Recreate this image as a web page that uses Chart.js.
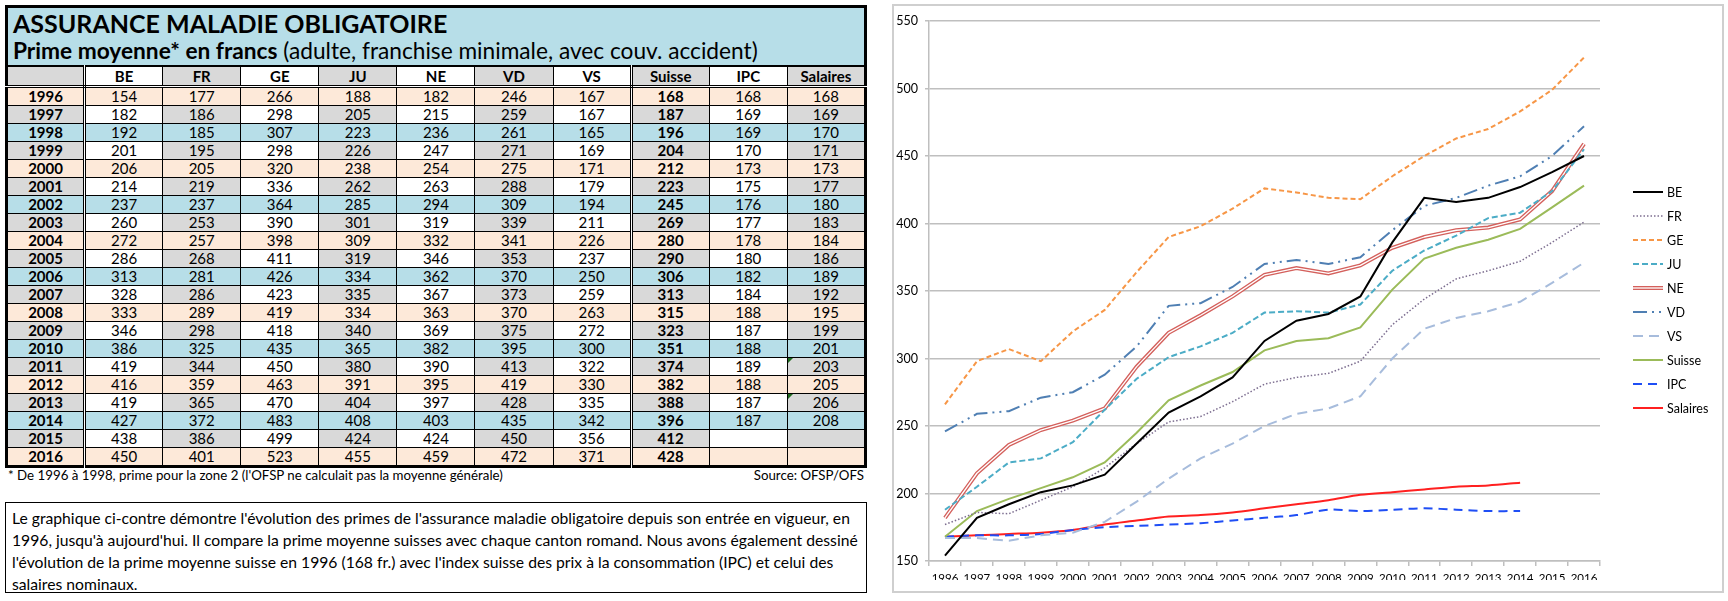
<!DOCTYPE html>
<html>
<head>
<meta charset="utf-8">
<title>Assurance maladie obligatoire</title>
<script src="https://cdn.jsdelivr.net/npm/chart.js"></script>
<style>
  body { margin:0; width:1728px; height:601px; position:relative; overflow:hidden; background:#fff; color:#000;
         font-family:Lato,'Noto Sans',sans-serif; }
  #tbl { position:absolute; left:5px; top:5px; width:862px; border-collapse:collapse; table-layout:fixed; border:3px solid #000; }
  #tbl td { border:1px solid #000; height:17px; padding:0; text-align:center; font-size:15px; line-height:17px; position:relative; }
  #tbl td.title { text-align:left; background:#b7dee8; height:57px; padding:0 0 0 5px; border-bottom:2px solid #000; }
  .t1 { font-size:25px; font-weight:bold; line-height:29px; }
  .t2 { font-size:22.7px; line-height:26px; }
  #tbl tr.head td { font-weight:bold; height:18px; border-bottom:3px double #000; }
  #tbl td.yr, #tbl td.ch { font-weight:bold; }
  #tbl td.dl { border-right:3px double #000; }
  .tri::before { content:''; position:absolute; left:0; top:0; border-top:5px solid #1e6b1e; border-right:5px solid transparent; }
  #foot { position:absolute; left:8px; top:467px; width:856px; font-size:13.3px; }
  #foot span { float:right; }
  #note { position:absolute; left:5px; top:502px; width:862px; height:91px; box-sizing:border-box; border:1.5px solid #000;
          font-size:15.7px; line-height:22px; padding:4px 6px; white-space:nowrap; }
  #chartbox { position:absolute; left:892px; top:4px; width:832px; height:589px; box-sizing:border-box; border:2px solid #cfcfcf; }
  #chartbox div { position:relative; width:828px; height:585px; }
</style>
</head>
<body>
<table id="tbl"></table>
<div id="foot">* De 1996 à 1998, prime pour la zone 2 (l'OFSP ne calculait pas la moyenne générale)<span>Source: OFSP/OFS</span></div>
<div id="note">Le graphique ci-contre démontre l'évolution des primes de l'assurance maladie obligatoire depuis son entrée en vigueur, en<br>1996, jusqu'à aujourd'hui. Il compare la prime moyenne suisses avec chaque canton romand. Nous avons également dessiné<br>l'évolution de la prime moyenne suisse en 1996 (168 fr.) avec l'index suisse des prix à la consommation (IPC) et celui des<br>salaires nominaux.</div>
<div id="chartbox"><div><canvas id="primesChart"></canvas></div></div>

<script>
const FONT = "Lato,'Noto Sans',sans-serif";

const years = [1996, 1997, 1998, 1999, 2000, 2001, 2002, 2003, 2004, 2005, 2006,
               2007, 2008, 2009, 2010, 2011, 2012, 2013, 2014, 2015, 2016];
const BE = [154, 182, 192, 201, 206, 214, 237, 260, 272, 286, 313, 328, 333, 346, 386, 419, 416, 419, 427, 438, 450];
const FR = [177, 186, 185, 195, 205, 219, 237, 253, 257, 268, 281, 286, 289, 298, 325, 344, 359, 365, 372, 386, 401];
const GE = [266, 298, 307, 298, 320, 336, 364, 390, 398, 411, 426, 423, 419, 418, 435, 450, 463, 470, 483, 499, 523];
const JU = [188, 205, 223, 226, 238, 262, 285, 301, 309, 319, 334, 335, 334, 340, 365, 380, 391, 404, 408, 424, 455];
const NE = [182, 215, 236, 247, 254, 263, 294, 319, 332, 346, 362, 367, 363, 369, 382, 390, 395, 397, 403, 424, 459];
const VD = [246, 259, 261, 271, 275, 288, 309, 339, 341, 353, 370, 373, 370, 375, 395, 413, 419, 428, 435, 450, 472];
const VS = [167, 167, 165, 169, 171, 179, 194, 211, 226, 237, 250, 259, 263, 272, 300, 322, 330, 335, 342, 356, 371];
const Suisse = [168, 187, 196, 204, 212, 223, 245, 269, 280, 290, 306, 313, 315, 323, 351, 374, 382, 388, 396, 412, 428];
const IPC = [168, 169, 169, 170, 173, 175, 176, 177, 178, 180, 182, 184, 188, 187, 188, 189, 188, 187, 187, null, null];
const Salaires = [168, 169, 170, 171, 173, 177, 180, 183, 184, 186, 189, 192, 195, 199, 201, 203, 205, 206, 208, null, null];

const columns = ['BE', 'FR', 'GE', 'JU', 'NE', 'VD', 'VS', 'Suisse', 'IPC', 'Salaires'];
const columnData = [BE, FR, GE, JU, NE, VD, VS, Suisse, IPC, Salaires];

// ---- table on the left ----
const tbl = document.getElementById('tbl');
let html = '<colgroup>' + '<col>'.repeat(11) + '</colgroup>';
html += '<tr><td class="title" colspan="11"><div class="t1">ASSURANCE MALADIE OBLIGATOIRE</div>' +
        '<div class="t2"><b>Prime moyenne* en francs</b> (adulte, franchise minimale, avec couv. accident)</div></td></tr>';

function cellBg(row, col) {
    if (row >= 0 && row % 4 === 0) return '#fde9d9';
    if (row >= 0 && row % 4 === 2) return '#b7dee8';
    return col % 2 === 0 ? '#d9d9d9' : '#ffffff';
}
function cellClass(col) {
    return (col === 0 || col === 7) ? 'dl' : '';
}

html += '<tr class="head">';
['', ...columns].forEach((c, j) => {
    html += `<td class="${cellClass(j)}" style="background:${cellBg(-1, j)}">${c}</td>`;
});
html += '</tr>';

years.forEach((y, i) => {
    html += '<tr>';
    html += `<td class="yr dl" style="background:${cellBg(i, 0)}">${y}</td>`;
    columnData.forEach((arr, k) => {
        const j = k + 1;
        let cls = cellClass(j);
        if (columns[k] === 'Suisse') cls += ' ch';
        if (columns[k] === 'Salaires' && (y === 2011 || y === 2013)) cls += ' tri';
        const v = arr[i] === null ? '' : arr[i];
        html += `<td class="${cls}" style="background:${cellBg(i, j)}">${v}</td>`;
    });
    html += '</tr>';
});
tbl.innerHTML = html;

// ---- chart on the right ----
const extras = {
    id: 'extras',
    // NE is drawn as a double line: white core over the red stroke
    afterDatasetDraw(chart, args) {
        const ds = chart.data.datasets[args.index];
        if (!ds.doubleLine) return;
        const ctx = chart.ctx;
        ctx.save();
        ctx.strokeStyle = '#ffffff';
        ctx.lineWidth = 1.3;
        ctx.lineJoin = 'round';
        ctx.beginPath();
        args.meta.data.forEach((p, i) => i ? ctx.lineTo(p.x, p.y) : ctx.moveTo(p.x, p.y));
        ctx.stroke();
        ctx.restore();
    },
    afterDraw(chart) {
        const ctx = chart.ctx;
        const x0 = chart.chartArea.right + 33;
        const y0 = chart.chartArea.top + 171;
        chart.data.datasets.forEach((ds, i) => {
            const y = y0 + i * 24;
            ctx.save();
            ctx.strokeStyle = ds.borderColor;
            ctx.lineWidth = ds.borderWidth;
            ctx.setLineDash(ds.borderDash || []);
            ctx.beginPath();
            ctx.moveTo(x0, y);
            ctx.lineTo(x0 + 30, y);
            ctx.stroke();
            if (ds.doubleLine) {
                ctx.strokeStyle = '#ffffff';
                ctx.lineWidth = 1.3;
                ctx.beginPath();
                ctx.moveTo(x0, y);
                ctx.lineTo(x0 + 30, y);
                ctx.stroke();
            }
            ctx.setLineDash([]);
            ctx.fillStyle = '#000';
            ctx.font = '12.5px ' + FONT;
            ctx.textBaseline = 'middle';
            ctx.fillText(ds.label, x0 + 34, y + 1);
            ctx.restore();
        });
    }
};

const ctx = document.getElementById('primesChart').getContext('2d');
new Chart(ctx, {
    type: 'line',
    data: {
        labels: years,
        datasets: [
            { label: 'BE', data: BE, borderColor: '#000000', borderWidth: 2 },
            { label: 'FR', data: FR, borderColor: '#7d6e90', borderWidth: 1.5, borderDash: [1.5, 2] },
            { label: 'GE', data: GE, borderColor: '#f79646', borderWidth: 2, borderDash: [5, 3] },
            { label: 'JU', data: JU, borderColor: '#4bacc6', borderWidth: 2, borderDash: [6, 3] },
            { label: 'NE', data: NE, borderColor: '#d4605c', borderWidth: 4, doubleLine: true },
            { label: 'VD', data: VD, borderColor: '#4f7fb3', borderWidth: 2, borderDash: [14, 5, 2, 5, 2, 5] },
            { label: 'VS', data: VS, borderColor: '#a7bcdc', borderWidth: 2, borderDash: [10, 6] },
            { label: 'Suisse', data: Suisse, borderColor: '#9bbb59', borderWidth: 2 },
            { label: 'IPC', data: IPC, borderColor: '#1f4ef5', borderWidth: 2, borderDash: [9, 6], tension: 0.3 },
            { label: 'Salaires', data: Salaires, borderColor: '#ff2020', borderWidth: 2, tension: 0.3 }
        ]
    },
    options: {
        responsive: true,
        maintainAspectRatio: false,
        animation: false,
        elements: { point: { radius: 0 }, line: { tension: 0, fill: false } },
        layout: { padding: { left: 0, top: 15, right: 122, bottom: 11 } },
        plugins: { legend: { display: false }, tooltip: { enabled: false } },
        scales: {
            x: {
                offset: true,
                grid: { drawOnChartArea: false, offset: true, tickLength: 5, color: '#bfbfbf', lineWidth: 1.5 },
                border: { color: '#bfbfbf', width: 1.5 },
                ticks: { color: '#000', font: { family: FONT, size: 11.5 }, padding: 5, maxRotation: 0, autoSkip: false },
                afterFit(scale) { scale.height = 19; }
            },
            y: {
                min: 150,
                max: 550,
                ticks: { stepSize: 50, color: '#000', font: { family: FONT, size: 12.5 }, padding: 7 },
                grid: { color: '#bfbfbf', lineWidth: 1.5, tickLength: 4 },
                border: { color: '#bfbfbf', width: 1.5 },
                afterFit(scale) { scale.width = 35; }
            }
        }
    },
    plugins: [extras]
});
</script>
</body>
</html>
